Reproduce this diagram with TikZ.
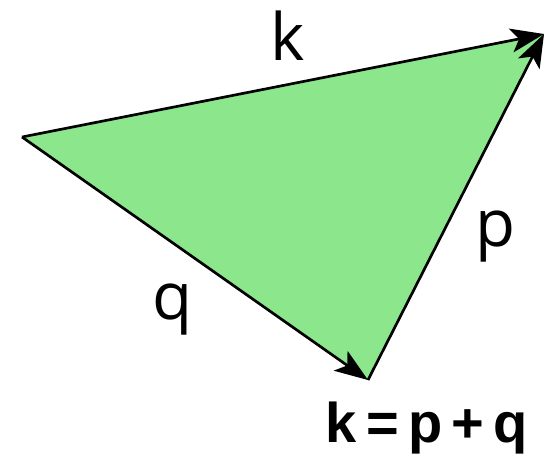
\documentclass[tikz,border=0pt]{standalone}
\usepackage{fontspec}
\setmainfont{Open Sans}
\newfontfamily\formulafont{Liberation Sans}
\usetikzlibrary{arrows.meta}
\definecolor{trifill}{RGB}{140,230,140}
\begin{document}
\begin{tikzpicture}[
        x=0.75pt, y=-0.75pt,
        vec/.style={draw=black, line width=2pt, -{Stealth[length=25pt, width=18pt, inset=6pt]}},
        lbl/.style={anchor=base, inner sep=0pt, font=\fontsize{49}{50}\selectfont},
        sum/.style={anchor=base, inner sep=0pt, font=\fontsize{42}{44}\selectfont\formulafont\bfseries}]
    \useasboundingbox (0,0) rectangle (557,455);

    % ---------- the triangle ----------
    \coordinate (left) at (22,137);
    \coordinate (top) at (544,34);
    \coordinate (bottom) at (368,380);

    \fill[trifill] (left) -- (top) -- (bottom) -- cycle;

    \draw[vec] (left) -- (top);
    \draw[vec] (left) -- (bottom);
    \draw[vec] (bottom) -- (top);

    % ---------- labels ----------
    \node[lbl] (klbl) at (288,60) {k};
    \node[lbl] (plbl) at (496,246) {p};
    \node[lbl] (qlbl) at (173,319) {q};

    \node[sum] (rule) at (427,442) {k\,=\,p\,+\,q};
\end{tikzpicture}
\end{document}
